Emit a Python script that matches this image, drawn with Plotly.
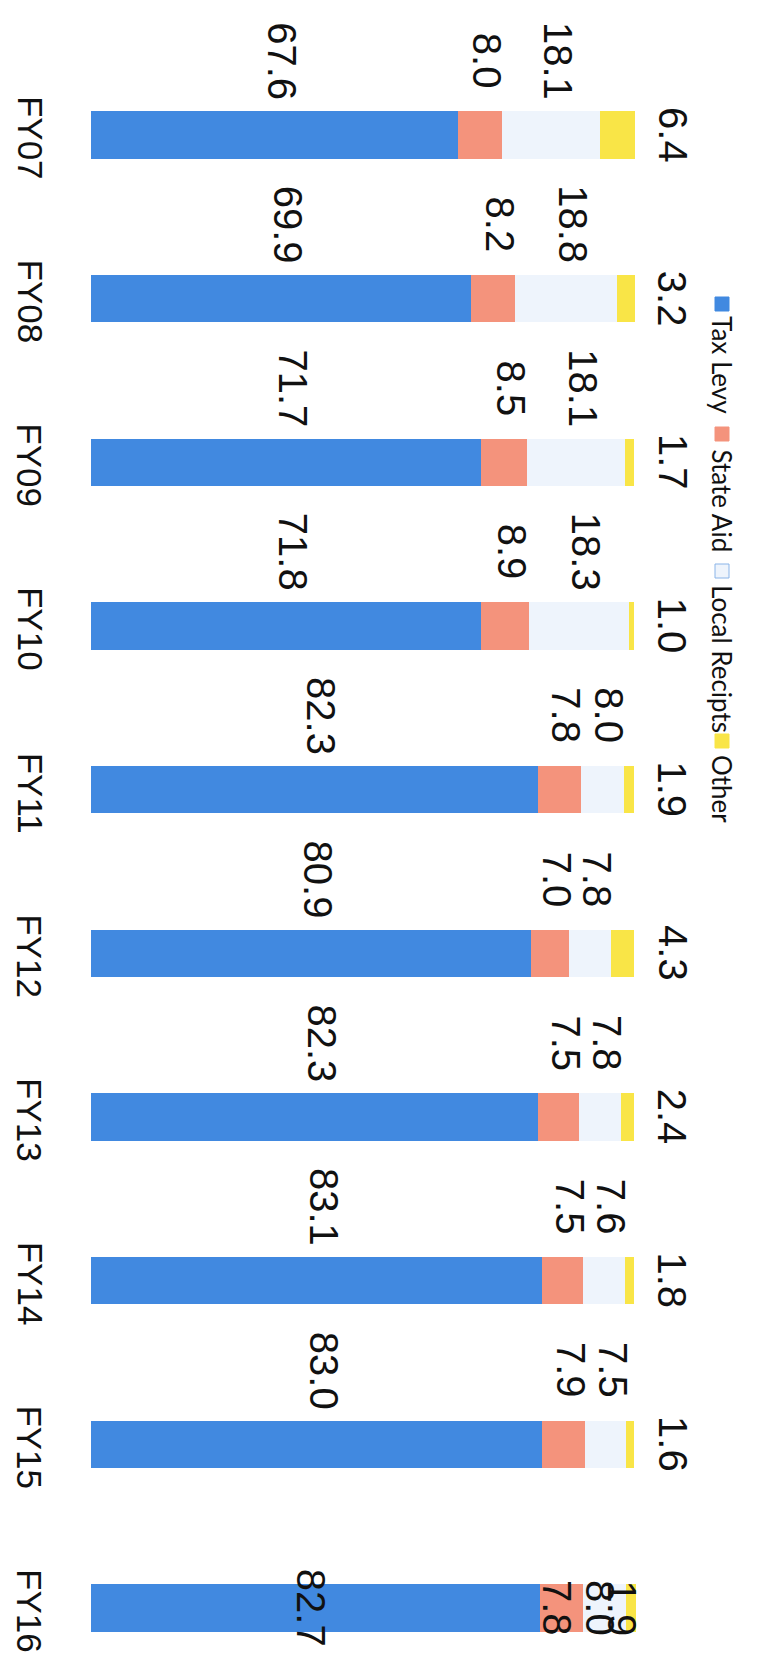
import plotly.graph_objects as go

# ---------------- data ----------------
years = ["FY07", "FY08", "FY09", "FY10", "FY11", "FY12", "FY13", "FY14", "FY15", "FY16"]
tax_levy = [67.6, 69.9, 71.7, 71.8, 82.3, 80.9, 82.3, 83.1, 83.0, 82.7]
state_aid = [8.0, 8.2, 8.5, 8.9, 7.8, 7.0, 7.5, 7.5, 7.9, 7.8]
local_recipts = [18.1, 18.8, 18.1, 18.3, 8.0, 7.8, 7.8, 7.6, 7.5, 8.0]
other = [6.4, 3.2, 1.7, 1.0, 1.9, 4.3, 2.4, 1.8, 1.6, 1.9]

series_names = ["Tax Levy", "State Aid", "Local Recipts", "Other"]
series_vals = [tax_levy, state_aid, local_recipts, other]
colors = ["#4189e0", "#f4937c", "#eef4fc", "#f9e547"]

# label placement per category row: labels above the bar, or on it (last row)
label_mode = ["above"] * 9 + ["on"]

# ---------------- layout geometry ----------------
W, H = 763, 1655
XMAX = 100.5
ML, MT, MB = 91, 94, 6
PW = int(round(XMAX * 5.43))
MR = W - ML - PW
PH = H - MT - MB


def px_x(px):
    return (px - ML) / PW


def px_y(py):
    return (H - MB - py) / PH


fig = go.Figure()
for name, vals, col in zip(series_names, series_vals, colors):
    fig.add_trace(go.Bar(
        y=years, x=vals, name=name, orientation="h",
        marker=dict(color=col, line=dict(width=0)),
        width=0.29, showlegend=False, hoverinfo="skip",
    ))

LABEL_FONT = dict(family="Liberation Sans, Arial, sans-serif", size=40, color="#111111")
TICK_FONT = dict(family="Liberation Sans, Arial, sans-serif", size=35, color="#111111")
annotations = []
for i, yr in enumerate(years):
    # category label (rotated, like the rest of the page)
    annotations.append(dict(
        x=px_x(30), y=yr, xref="paper", yref="y", text=yr,
        textangle=90, showarrow=False, font=TICK_FONT,
        xanchor="center", yanchor="middle", yshift=-3,
    ))
    base = 0.0
    total = sum(v[i] for v in series_vals)
    for s, vals in enumerate(series_vals):
        v = vals[i]
        txt = f"{v:.1f}"
        if label_mode[i] == "above":
            if s < 3:
                annotations.append(dict(
                    x=base + v / 2 + 1.3, y=yr, xref="x", yref="y", text=txt,
                    textangle=90, showarrow=False, font=LABEL_FONT,
                    xanchor="center", yanchor="middle", yshift=74,
                ))
            else:
                annotations.append(dict(
                    x=total, y=yr, xref="x", yref="y", text=txt,
                    textangle=90, showarrow=False, font=LABEL_FONT,
                    xanchor="center", yanchor="middle", xshift=38,
                ))
        else:
            nudge = -0.8 if s < 3 else -1.8
            annotations.append(dict(
                x=base + v / 2 + nudge, y=yr, xref="x", yref="y", text=txt,
                textangle=90, showarrow=False, font=LABEL_FONT,
                xanchor="center", yanchor="middle",
            ))
        base += v

# legend (rotated, drawn manually)
legend_text_top = [314, 448, 583, 753]
legend_mark_y = [304, 434, 571, 741]
LEG_X = 722
LEG_FONT = dict(family="Lato, Calibri, sans-serif", size=26, color="#111111")
shapes = []
for name, col, ty, my in zip(series_names, colors, legend_text_top, legend_mark_y):
    annotations.append(dict(
        x=px_x(LEG_X), y=px_y(ty), xref="paper", yref="paper", text=name,
        textangle=90, showarrow=False, font=LEG_FONT,
        xanchor="center", yanchor="top",
    ))
    lc = "#8ab4e8" if name == "Local Recipts" else col
    shapes.append(dict(
        type="rect", xref="paper", yref="paper",
        x0=px_x(LEG_X - 7), x1=px_x(LEG_X + 7),
        y0=px_y(my + 7), y1=px_y(my - 7),
        fillcolor=col, line=dict(color=lc, width=1),
    ))

fig.update_layout(
    width=W, height=H,
    margin=dict(l=ML, r=MR, t=MT, b=MB),
    barmode="stack",
    plot_bgcolor="white", paper_bgcolor="white",
    annotations=annotations, shapes=shapes,
    xaxis=dict(range=[0, XMAX], visible=False, fixedrange=True),
    yaxis=dict(
        type="category", categoryorder="array", categoryarray=years,
        range=[9.25, -0.25], showticklabels=False, ticks="",
        showgrid=False, zeroline=False, showline=False,
    ),
)

fig.write_html("out.html")
